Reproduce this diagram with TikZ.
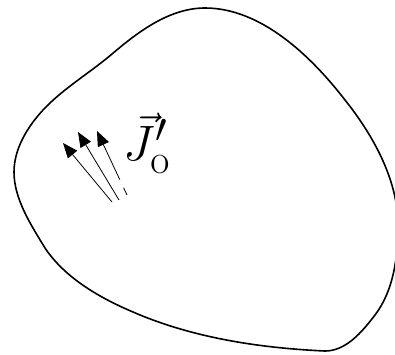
\documentclass[tikz,border=0pt]{standalone}
\usetikzlibrary{arrows.meta}

\begin{document}
\begin{tikzpicture}[x=0.5pt, y=-0.5pt, line join=round,
  flux/.style={-{Triangle[length=7.5pt,width=6pt]}, line width=0.4pt}]
  \useasboundingbox (0,0) rectangle (395,354);
  % boundary of the region
  \draw[line width=0.8pt] (205,8)
    .. controls (261,8) and (311,56) .. (345,100)
    .. controls (373,135) and (398,180) .. (398,225)
    .. controls (398,256) and (394,290) .. (375,315)
    .. controls (362,332) and (346,351) .. (325,351)
    .. controls (260,348) and (193,338) .. (133,312)
    .. controls (100,298) and (65,278) .. (45,248)
    .. controls (31,225) and (14,199) .. (14,172)
    .. controls (14,146) and (31,121) .. (50,103)
    .. controls (69,85) and (92,71) .. (112,54)
    .. controls (139,31) and (170,8) .. (205,8) -- cycle;
  % current density arrows
  \coordinate (A1) at (112,202);
  \coordinate (T1) at (63,143);
  \coordinate (A2) at (119,200);
  \coordinate (T2) at (78,132);
  \coordinate (A3) at (127,195);
  \coordinate (T3) at (97,131);
  \draw[flux] (A1) -- (T1);
  \draw[flux] (A2) -- (T2);
  \draw[flux, dash pattern=on 4pt off 4.5pt on 100pt] (A3) -- (T3);
  \node (J) at (147,143) {\fontsize{29}{32}\selectfont $\vec{J}'_{\mathrm{o}}$};
\end{tikzpicture}
\end{document}
